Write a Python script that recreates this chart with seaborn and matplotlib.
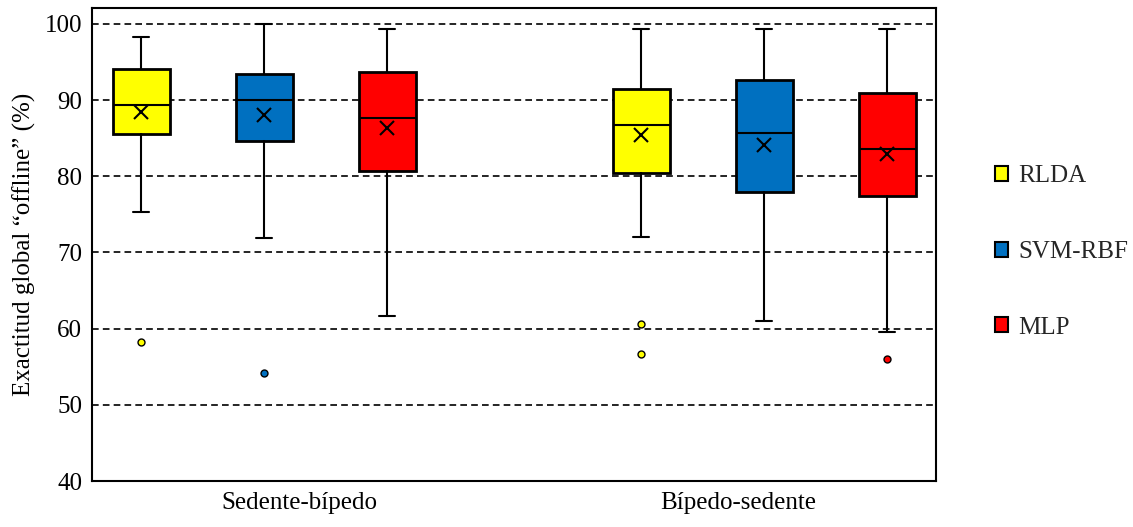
import numpy as np
import matplotlib
matplotlib.use("Agg")
import matplotlib.pyplot as plt
import seaborn as sns
from matplotlib.patches import Patch

groups = ["Sedente-bípedo", "Bípedo-sedente"]
models = ["RLDA", "SVM-RBF", "MLP"]
colors = ["#FFFF00", "#0070C0", "#FF0000"]

# values, per group: RLDA, SVM-RBF, MLP
whislo = [[75.3, 71.9, 61.6], [72.0, 61.0, 59.6]]
q1 = [[85.5, 84.6, 80.7], [80.4, 78.0, 77.4]]
med = [[89.4, 90.0, 87.7], [86.8, 85.7, 83.6]]
q3 = [[94.1, 93.5, 93.7], [91.4, 92.6, 90.9]]
whishi = [[98.3, 100.0, 99.3], [99.4, 99.4, 99.4]]
means = [[88.4, 88.1, 86.3], [85.4, 84.1, 82.9]]
fliers = [[[58.2], [54.2], []], [[60.6, 56.7], [], [56.0]]]

sns.set_theme(style="white")
plt.rcParams["font.family"] = ["Liberation Serif", "DejaVu Serif"]

fig = plt.figure(figsize=(11.33, 5.27), dpi=100)
ax = fig.add_axes([92 / 1133, 1 - 481 / 527, 844 / 1133, 473 / 527])

offset = 0.246
for g in range(len(groups)):
    for m in range(len(models)):
        st = [{
            "whislo": whislo[g][m], "q1": q1[g][m], "med": med[g][m],
            "q3": q3[g][m], "whishi": whishi[g][m], "mean": means[g][m],
            "fliers": fliers[g][m],
        }]
        ax.bxp(st, positions=[g + (m - 1) * offset], widths=0.114,
               patch_artist=True, showmeans=True, capwidths=0.032,
               boxprops=dict(facecolor=colors[m], edgecolor="black", linewidth=2),
               medianprops=dict(color="black", linewidth=1.5),
               whiskerprops=dict(color="black", linewidth=1.5),
               capprops=dict(color="black", linewidth=1.5),
               meanprops=dict(marker="x", markeredgecolor="black", markersize=10,
                              markeredgewidth=1.5),
               flierprops=dict(marker="o", markerfacecolor=colors[m],
                               markeredgecolor="black", markersize=5,
                               markeredgewidth=1), zorder=3)

for yv in range(50, 101, 10):
    ax.axhline(yv, color="black", linewidth=1.2, dashes=(4, 2.5), zorder=1)

ax.set_xlim(-0.344, 1.344)
ax.set_ylim(40, 102.1)
ax.set_yticks(range(40, 101, 10))
ax.set_xticks([0.07, 0.948])
ax.set_xticklabels(groups)
ax.tick_params(axis="both", length=0, labelsize=18, colors="black")
ax.tick_params(axis="y", pad=7)
ax.tick_params(axis="x", pad=8)
ax.set_ylabel("Exactitud global \u201coffline\u201d (%)", fontsize=18, color="black", labelpad=6)
for s in ax.spines.values():
    s.set_color("black")
    s.set_linewidth(1.5)

handles = [Patch(facecolor=c, edgecolor="black", linewidth=1.5) for c in colors]
fig.legend(handles, models, loc="center left", bbox_to_anchor=(987 / 1133, 1 - 252 / 527),
           frameon=False, fontsize=18, handlelength=0.55, handleheight=0.55,
           handletextpad=0.4, labelspacing=2.15, borderaxespad=0, borderpad=0.3)

fig.savefig("out.png", dpi=100)
